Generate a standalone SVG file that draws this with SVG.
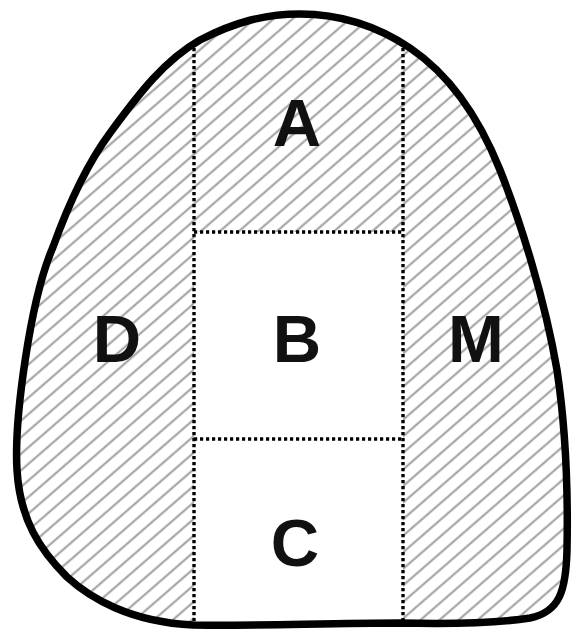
<svg xmlns="http://www.w3.org/2000/svg" width="573" height="630" viewBox="0 0 573 630">
<style>
.lbl{font-family:"Liberation Sans","Open Sans",sans-serif;font-weight:bold;font-size:67px;fill:#111;text-anchor:middle}
.dot{fill:none;stroke:#000;stroke-width:3.4;stroke-dasharray:3.2 2.8}
.outline{fill:none;stroke:#000;stroke-width:7.5;stroke-linejoin:round}
</style>
<defs>
<pattern id="hatch" patternUnits="userSpaceOnUse" width="40" height="12.5" patternTransform="rotate(-41)">
<line x1="0" y1="6.25" x2="40" y2="6.25" stroke="#999" stroke-width="1.8"/>
</pattern>
<path id="shape" d="M 300 14 C 345 14 380 28 410 48 C 450 75 480 120 500 170 C 520 220 545 300 557 370 C 566 430 568 500 567 550 C 566 590 560 612 530 618 C 490 624 440 624 400 623 C 330 623 250 626 193 625 C 130 622 90 598 67 577 C 40 550 20 520 17 470 C 14 420 30 300 53 247 C 70 200 90 160 110 133 C 140 92 165 60 200 40 C 235 22 265 14 300 14 Z"/>
<clipPath id="clip"><use href="#shape"/></clipPath>
</defs>
<rect width="573" height="630" fill="#fff"/>
<g clip-path="url(#clip)" fill="url(#hatch)">
<rect id="D-area" x="0" y="0" width="194" height="630"/>
<rect id="M-area" x="403" y="0" width="170" height="630"/>
<rect id="A-area" x="194" y="0" width="209" height="232"/>
</g>
<g id="connectors" clip-path="url(#clip)">
<line class="dot" x1="194" y1="30" x2="194" y2="628"/>
<line class="dot" x1="403" y1="30" x2="403" y2="628"/>
<line class="dot" x1="194" y1="232" x2="403" y2="232"/>
<line class="dot" x1="194" y1="439" x2="403" y2="439"/>
</g>
<use href="#shape" class="outline"/>
<g id="A"><text class="lbl" x="297" y="146">A</text></g>
<g id="B"><text class="lbl" x="297" y="362">B</text></g>
<g id="C"><text class="lbl" x="295" y="566">C</text></g>
<g id="D"><text class="lbl" x="117" y="362">D</text></g>
<g id="M"><text class="lbl" x="476" y="362">M</text></g>
</svg>
